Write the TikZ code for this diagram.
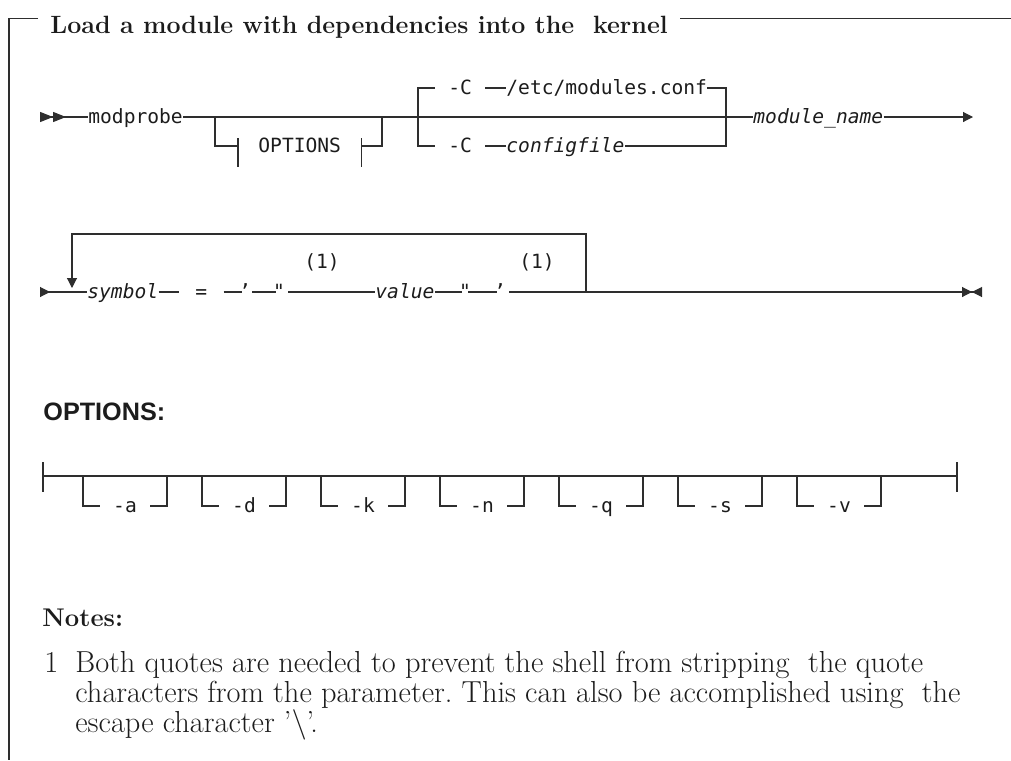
\documentclass[tikz,border=0pt]{standalone}
\usepackage{fontspec}
\newfontfamily\railmono{DejaVu Sans Mono}
\newfontfamily\headsans{Liberation Sans}
\usepackage{tikz}
\usetikzlibrary{positioning, arrows.meta}
\definecolor{railInk}{HTML}{2E2E2E}
\definecolor{textInk}{HTML}{1C1C1C}
\newcommand{\railfont}{\railmono\fontsize{9.8}{12}\selectfont}
\tikzset{
  rail/.style={draw=railInk, line width=0.55pt},
  railstub/.style={draw=railInk, line width=1.1pt},
  railtxt/.style={font=\railfont, text=textInk, inner xsep=0pt,
    inner ysep=0pt, text height=7.5pt, text depth=1.5pt, anchor=west},
  railkey/.style={railtxt, inner xsep=6.5pt},
  railvar/.style={railtxt, font=\railfont\itshape},
  railquote/.style={railtxt, anchor=center, inner xsep=-1.5pt},
  titletxt/.style={font=\fontsize{12.5}{14}\selectfont\bfseries,
    text=textInk, inner xsep=6pt, inner ysep=0pt, anchor=base west},
  headtxt/.style={font=\headsans\fontsize{12.6}{14}\selectfont\bfseries,
    text=textInk, inner sep=0pt, anchor=base west},
  notetxt/.style={font=\fontsize{15.2}{17}\selectfont, text=textInk,
    inner sep=0pt, anchor=base west},
  notehead/.style={notetxt, font=\fontsize{12.8}{14}\selectfont\bfseries},
  railhead/.tip={Triangle[length=5pt, width=5pt]},
  railback/.tip={Triangle[reversed, length=5pt, width=5pt]},
}
\begin{document}
\begin{tikzpicture}[x=0.5pt, y=-0.5pt]
  \useasboundingbox (0,0) rectangle (1011,760);
  % frame and title
  \coordinate (fTL) at (9,18.5);
  \coordinate (fBL) at (9,760);
  \coordinate (fTR) at (1011,18.5);
  \node[titletxt] (title) at (38,33)
    {Load a module with dependencies into the~ kernel};
  \draw[rail] (title.west |- fTL) -| (fBL);
  \draw[rail] (title.east |- fTL) -- (fTR);

  % first line
  \coordinate (in1) at (40,117);
  \node[railtxt] (mod) at (88,117) {modprobe};
  \coordinate (optIn) at (215,117);
  \coordinate (optOut) at (382,117);
  \node[railkey, inner xsep=10pt] (optref) at (238,146) {OPTIONS};
  \coordinate (cfgIn) at (418,117);
  \coordinate (cfgOut) at (726,117);
  \node[railkey] (cdef) at (435,88) {-C};
  \node[railtxt] (cpath) at (506,88) {/etc/modules.conf};
  \node[railkey] (calt) at (435,146) {-C};
  \node[railvar] (cfile) at (506,146) {configfile};
  \node[railvar] (modname) at (753,117) {module\_name};
  \coordinate (out1) at (973,117);

  \draw[rail, {railback[length=6.5pt] railback[length=6.5pt]}-] (in1) -- (mod);
  \draw[rail] (mod) -- (modname);
  \draw[rail] (optIn) |- (optref.west);
  \draw[rail] (optref.east) -| (optOut);
  \draw[rail] ([yshift=4pt]optref.west) -- ([yshift=-10.5pt]optref.west);
  \draw[rail] ([yshift=4pt]optref.east) -- ([yshift=-10.5pt]optref.east);
  \draw[rail] (cfgIn) |- (cdef.west);
  \draw[rail] (cfgIn) |- (calt.west);
  \draw[rail] (cdef) -- (cpath);
  \draw[rail] (cpath.east) -| (cfgOut);
  \draw[rail] (calt) -- (cfile);
  \draw[rail] (cfile.east) -| (cfgOut);
  \draw[rail, -{railhead[]}] (modname) -- (out1);

  % second line
  \coordinate (in2) at (40,292);
  \node[railvar] (sym) at (87,292) {symbol};
  \node[railtxt, inner xsep=8pt] (eq) at (179,292) {=};
  \node[railquote] (q1) at (245,292) {’};
  \node[railquote, font=\railfont\itshape] (q2) at (279,292) {"};
  \node[railvar] (val) at (375,292) {value};
  \node[railquote, font=\railfont\itshape] (q3) at (465,292) {"};
  \node[railquote] (q4) at (500,292) {’};
  \node[railtxt, anchor=center] (fn1) at (322,262) {(1)};
  \node[railtxt, anchor=center] (fn2) at (537,262) {(1)};
  \coordinate (loopR) at (586,292);
  \coordinate (loopL) at (72,288);
  \coordinate (out2) at (982,292);

  \draw[rail, {railback[]}-] (in2) -- (sym);
  \draw[rail] (sym) -- (eq);
  \draw[rail] (eq) -- (q1);
  \draw[rail] ([xshift=2pt]q1.east) -- (q2);
  \draw[rail] ([xshift=3pt]q2.east) -- (val);
  \draw[rail] (val) -- (q3);
  \draw[rail] (q3) -- (q4);
  \draw[rail, -{railhead[] railback[]}] ([xshift=3pt]q4.east) -- (out2);
  \draw[rail, -{railhead[]}] (loopR) -- ++(0,-58) -| (loopL);
  \draw[railstub] ([xshift=3pt]loopR) -- ++(23,0);

  % OPTIONS fragment
  \node[headtxt] (opthead) at (43,420) {OPTIONS:};
  \coordinate (optsL) at (43,476);
  \coordinate (optsR) at (957,476);
  \draw[rail] (optsL) -- (optsR);
  \draw[rail] ([yshift=7pt]optsL) -- ([yshift=-8pt]optsL);
  \draw[rail] ([yshift=7pt]optsR) -- ([yshift=-8pt]optsR);
  \draw[railstub] ([xshift=5pt]optsL) -- ++(7,0);
  \foreach \flag [count=\i from 0] in {a,d,k,n,q,s,v}{
    \coordinate (fin\i) at ({83+119*\i},476);
    \coordinate (fout\i) at ({167+119*\i},476);
    \node[railkey, anchor=center] (flag\i) at ({125+119*\i},506) {-\flag};
    \draw[rail] (fin\i) |- (flag\i.west);
    \draw[rail] (flag\i.east) -| (fout\i);
  }
  \draw[railstub] ([xshift=3pt]fout6) -- ++(23,0);

  % notes
  \node[notehead] (notes) at (42,626) {Notes:};
  \node[notetxt] (fnum) at (44,672) {1};
  \node[notetxt] (fline1) at (75,672)
    {Both quotes are needed to prevent the shell from stripping~ the quote};
  \node[notetxt] (fline2) at (75,702)
    {characters from the parameter.\ This can also be accomplished using~ the};
  \node[notetxt] (fline3) at (75,732) {escape character '\textbackslash'.};
\end{tikzpicture}
\end{document}
